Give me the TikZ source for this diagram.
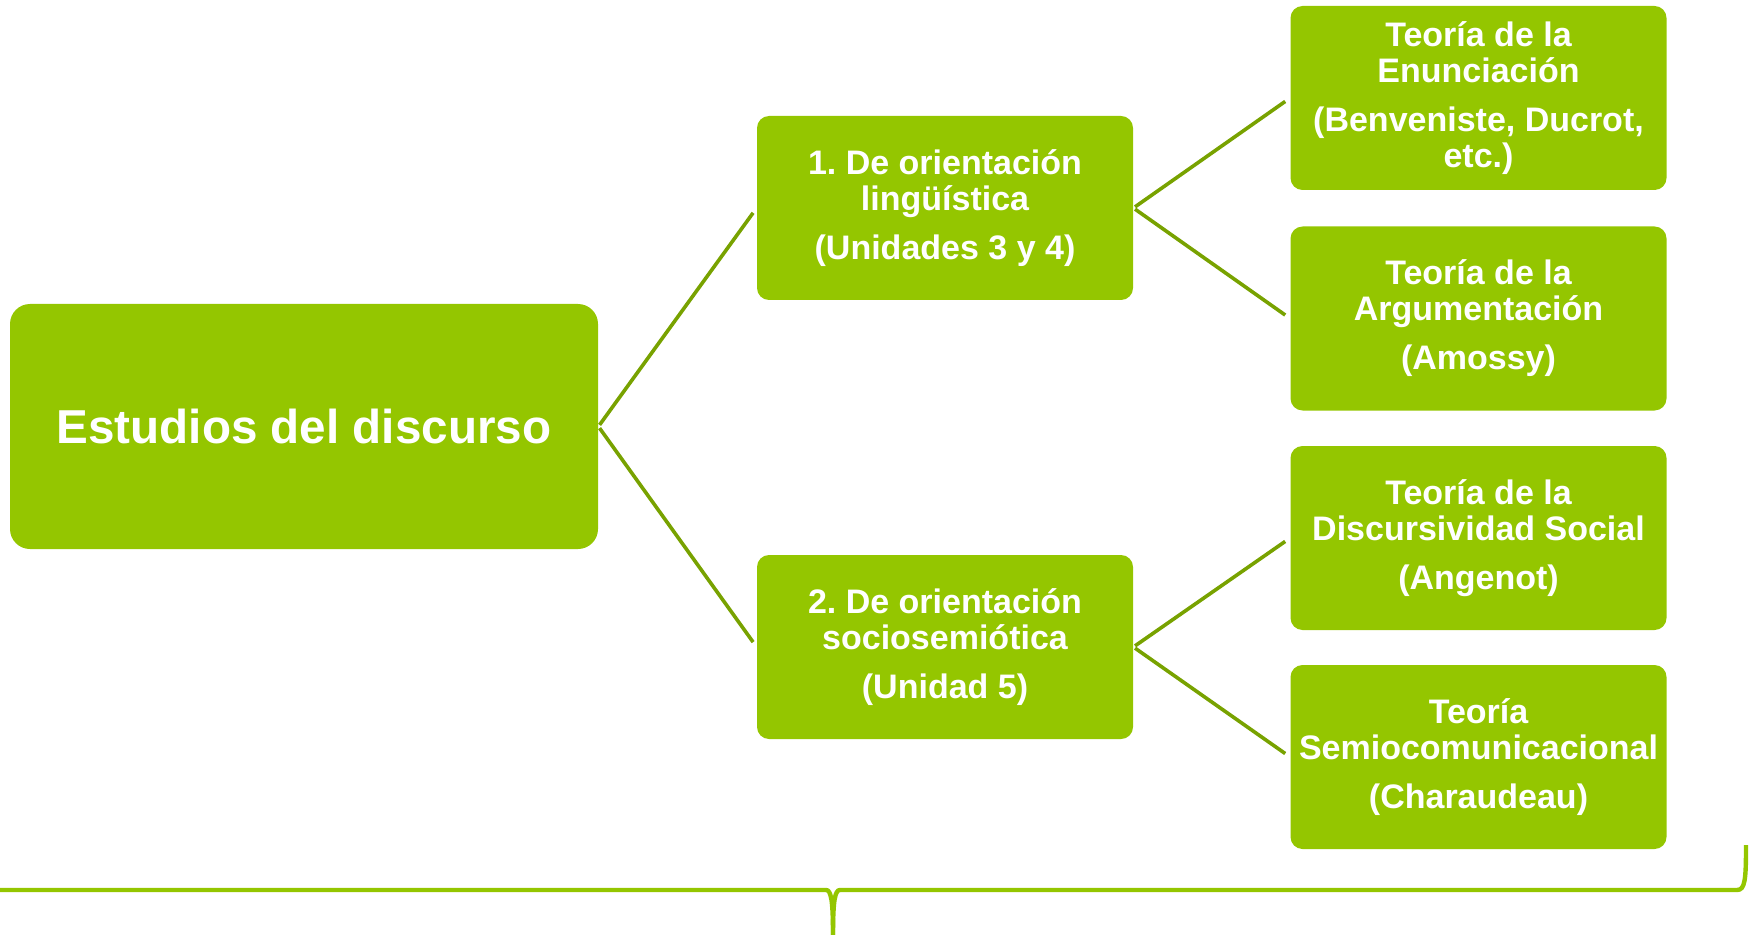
\documentclass[tikz,border=0pt]{standalone}
\usepackage{fontspec}
\setmainfont{Liberation Sans}
\frenchspacing
\definecolor{boxgreen}{RGB}{148,198,0}
\definecolor{linegreen}{RGB}{120,162,0}
\begin{document}
\begin{tikzpicture}[x=0.5pt,y=-0.5pt,
  mainbox/.style={fill=boxgreen, rounded corners=10pt, minimum width=294pt, minimum height=122.5pt, text=white, font=\fontsize{23.8}{28}\selectfont\bfseries, inner sep=0pt},
  subbox/.style={fill=boxgreen, rounded corners=6pt, minimum width=188pt, minimum height=92pt, text=white, font=\fontsize{17}{18}\selectfont\bfseries, align=center, inner sep=0pt},
  link/.style={draw=linegreen, line width=1.8pt, shorten >=3pt, shorten <=1pt},
  bracestyle/.style={draw=boxgreen, line width=2.2pt}]
\useasboundingbox (0,0) rectangle (1754,935);

\node[mainbox] (main) at (304,426.5) {Estudios del discurso};

\node[subbox] (ling) at (945,208) {1. De orientación\\lingüística\\[6.5pt](Unidades 3 y 4)};
\node[subbox] (socio) at (945,647) {2. De orientación\\sociosemiótica\\[6.5pt](Unidad 5)};

\node[subbox] (enun) at (1478.5,98) {Teoría de la\\Enunciación\\[6.5pt](Benveniste, Ducrot,\\etc.)};
\node[subbox] (argu) at (1478.5,318.5) {Teoría de la\\Argumentación\\[6.5pt](Amossy)};
\node[subbox] (disc) at (1478.5,538) {Teoría de la\\Discursividad Social\\[6.5pt](Angenot)};
\node[subbox] (semio) at (1478.5,757) {Teoría\\Semiocomunicacional\\[6.5pt](Charaudeau)};

\draw[link] (main.east) -- (ling.west);
\draw[link] (main.east) -- (socio.west);
\draw[link] (ling.east) -- (enun.west);
\draw[link] (ling.east) -- (argu.west);
\draw[link] (socio.east) -- (disc.west);
\draw[link] (socio.east) -- (semio.west);

% brace under the diagram
\coordinate (bl) at (0,890);
\coordinate (tip) at (833,935);
\coordinate (br) at (1746,845);
\draw[bracestyle] (bl) -- (826,890) .. controls (831,890) and (833,900) .. (tip);
\draw[bracestyle] (br) .. controls (1746,880) and (1745,890) .. (1737,890) -- (840,890) .. controls (835,890) and (833,900) .. (tip);
\end{tikzpicture}
\end{document}
